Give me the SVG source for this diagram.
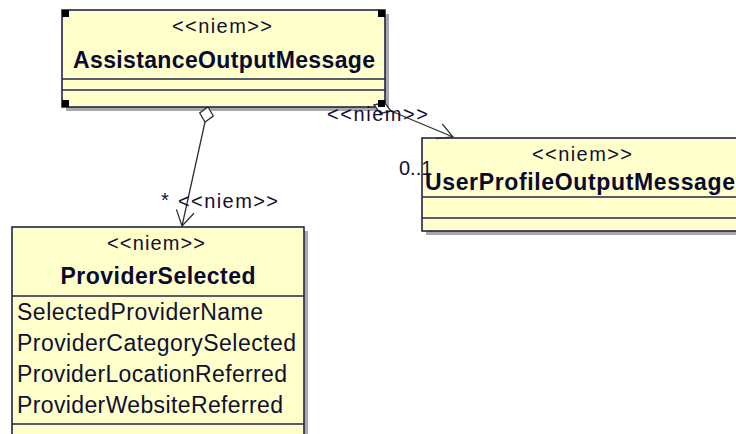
<svg xmlns="http://www.w3.org/2000/svg" width="736" height="434" viewBox="0 0 736 434">
<style>
.box{fill:#FFFFCC;stroke:#24244a;stroke-width:1.6}
.shadow{fill:#a8a8a8}
.sep{stroke:#24244a;stroke-width:1.4}
.st{font-family:"Liberation Sans",Arial,sans-serif;font-size:20px;fill:#101030}
.nm{font-family:"Liberation Sans",Arial,sans-serif;font-size:23px;font-weight:bold;fill:#0a0a30}
.at{font-family:"Liberation Sans",Arial,sans-serif;font-size:23px;fill:#101030}
.lbl{font-family:"Liberation Sans",Arial,sans-serif;font-size:20px;fill:#101030}
.ln{fill:none;stroke:#303030;stroke-width:1.3}
.dia{fill:#ffffff;stroke:#303030;stroke-width:1.3}
.hd{fill:#000000}
</style>
<rect width="736" height="434" fill="#ffffff"/>
<g id="AssistanceOutputMessage">
  <rect class="shadow" x="66" y="14" width="323" height="97"/>
  <rect class="box" x="62" y="10" width="323" height="97"/>
  <line class="sep" x1="62" y1="79" x2="385" y2="79"/>
  <line class="sep" x1="62" y1="90" x2="385" y2="90"/>
  <text class="st" x="222" y="33" text-anchor="middle" textLength="100" lengthAdjust="spacing">&lt;&lt;niem&gt;&gt;</text>
  <text class="nm" x="224" y="68" text-anchor="middle" textLength="302" lengthAdjust="spacing">AssistanceOutputMessage</text>
</g>
<g id="UserProfileOutputMessage">
  <rect class="shadow" x="426" y="142" width="330" height="93"/>
  <rect class="box" x="422" y="138" width="330" height="93"/>
  <line class="sep" x1="422" y1="197" x2="752" y2="197"/>
  <line class="sep" x1="422" y1="218" x2="752" y2="218"/>
  <text class="st" x="582" y="161" text-anchor="middle" textLength="100" lengthAdjust="spacing">&lt;&lt;niem&gt;&gt;</text>
  <text class="nm" x="425" y="190" textLength="310" lengthAdjust="spacing">UserProfileOutputMessage</text>
</g>
<g id="ProviderSelected">
  <rect class="shadow" x="16" y="231" width="292" height="220"/>
  <rect class="box" x="12" y="227" width="292" height="220"/>
  <line class="sep" x1="12" y1="296" x2="304" y2="296"/>
  <line class="sep" x1="12" y1="424" x2="304" y2="424"/>
  <text class="st" x="156" y="250" text-anchor="middle" textLength="98" lengthAdjust="spacing">&lt;&lt;niem&gt;&gt;</text>
  <text class="nm" x="158" y="284" text-anchor="middle" textLength="195" lengthAdjust="spacing">ProviderSelected</text>
  <text class="at" x="17" y="320" textLength="246" lengthAdjust="spacing">SelectedProviderName</text>
  <text class="at" x="17" y="351" textLength="279" lengthAdjust="spacing">ProviderCategorySelected</text>
  <text class="at" x="17" y="382" textLength="270" lengthAdjust="spacing">ProviderLocationReferred</text>
  <text class="at" x="17" y="413" textLength="266" lengthAdjust="spacing">ProviderWebsiteReferred</text>
</g>
<g id="connectors">
  <polygon class="dia" points="208,107 213.3,116 205,122 199.7,113"/>
  <line class="ln" x1="205" y1="122" x2="182" y2="226"/>
  <polyline class="ln" points="194,213.3 182,226 176.4,209.4"/>
  <polygon class="dia" points="374,105 384.5,102.6 391,111 380.5,113.4"/>
  <line class="ln" x1="391" y1="111" x2="453" y2="137"/>
  <polyline class="ln" points="442.3,123.8 453,137 436.1,138.6"/>
  <text class="lbl" x="161" y="207">*</text>
  <text class="lbl" x="178" y="208" textLength="100" lengthAdjust="spacing">&lt;&lt;niem&gt;&gt;</text>
  <text class="lbl" x="327" y="121" textLength="101" lengthAdjust="spacing">&lt;&lt;niem&gt;&gt;</text>
  <text class="lbl" x="399" y="175" font-size="21">0..1</text>
</g>
<g id="selection-handles">
  <rect class="hd" x="62" y="10" width="7" height="7"/>
  <rect class="hd" x="378" y="10" width="7" height="7"/>
  <rect class="hd" x="62" y="100" width="7" height="7"/>
  <rect class="hd" x="378" y="100" width="7" height="7"/>
</g>
</svg>
